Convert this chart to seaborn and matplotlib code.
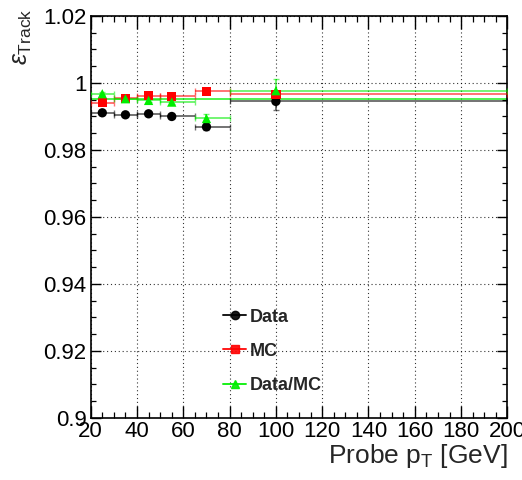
import matplotlib
matplotlib.use("Agg")
import matplotlib.pyplot as plt
from matplotlib.lines import Line2D
from matplotlib.ticker import MultipleLocator, FuncFormatter
import numpy as np
import pandas as pd
import seaborn as sns

# Probe pT bins (GeV): point position and bin edges
pt_center = [25, 35, 45, 55, 70, 100]
pt_low = [20, 30, 40, 50, 65, 80]
pt_high = [30, 40, 50, 65, 80, 200]

# Tracking efficiency per bin
eff_data = [0.9911, 0.9905, 0.9908, 0.9900, 0.9869, 0.9945]
err_data = [0.0004, 0.0004, 0.0004, 0.0005, 0.0008, 0.0027]
eff_mc = [0.9941, 0.9954, 0.9962, 0.9960, 0.9975, 0.9966]
err_mc = [0.0003, 0.0003, 0.0003, 0.0003, 0.0004, 0.0005]
ratio = [0.9968, 0.9953, 0.9948, 0.9943, 0.9894, 0.9977]
err_ratio = [0.0005, 0.0005, 0.0005, 0.0005, 0.0013, 0.0034]

# Constant fit of Data/MC over the full range
ratio_fit = 0.9952

series = [
    ("Data", eff_data, err_data, "black", "o", 6.0),
    ("MC", eff_mc, err_mc, "#ff0000", "s", 6.2),
    ("Data/MC", ratio, err_ratio, "#00ee00", "^", 6.4),
]

rows = []
for name, vals, errs, *_ in series:
    for c, lo, hi, v, e in zip(pt_center, pt_low, pt_high, vals, errs):
        rows.append(dict(sample=name, pt=c, lo=lo, hi=hi, eff=v, err=e))
df = pd.DataFrame(rows)

sns.set_style("ticks")
plt.rcParams["font.family"] = ["Liberation Sans", "DejaVu Sans"]
plt.rcParams["mathtext.fontset"] = "custom"
plt.rcParams["mathtext.rm"] = "Liberation Sans"
plt.rcParams["mathtext.it"] = "Liberation Sans:italic"

fig = plt.figure(figsize=(5.22, 4.80), dpi=100)
ax = fig.add_axes([0.1738, 0.1292, 0.9720 - 0.1738, 0.9667 - 0.1292])

palette = {name: col for name, _, _, col, _, _ in series}
markers = {name: m for name, _, _, _, m, _ in series}

# fitted constant for the ratio
ax.axhline(ratio_fit, color="#00ee00", lw=1.3, alpha=0.75, zorder=2)

for name, vals, errs, col, mk, ms in series:
    sub = df[df["sample"] == name]
    xerr = np.vstack([sub["pt"] - sub["lo"], sub["hi"] - sub["pt"]])
    ax.errorbar(sub["pt"], sub["eff"], xerr=xerr, yerr=sub["err"],
                fmt="none", ecolor=col, elinewidth=1.4, alpha=0.55,
                capsize=2, capthick=1.0, zorder=3)

sns.scatterplot(data=df, x="pt", y="eff", hue="sample", style="sample",
                palette=palette, markers=markers, s=45, linewidth=0,
                ax=ax, legend=False, zorder=4)

ax.set_xlim(20, 200)
ax.set_ylim(0.9, 1.02)

ax.xaxis.set_major_locator(MultipleLocator(20))
ax.xaxis.set_minor_locator(MultipleLocator(5))
ax.yaxis.set_major_locator(MultipleLocator(0.02))
ax.yaxis.set_minor_locator(MultipleLocator(0.005))


def yfmt(v, _):
    return f"{v:.2f}".rstrip("0").rstrip(".")


ax.yaxis.set_major_formatter(FuncFormatter(yfmt))
ax.xaxis.set_major_formatter(FuncFormatter(lambda v, _: f"{v:.0f}"))

ax.tick_params(axis="both", which="both", direction="in", top=True, right=True,
               labelsize=16, colors="black")
ax.tick_params(axis="x", which="major", length=9, width=1.0, pad=2)
ax.tick_params(axis="x", which="minor", length=4.5, width=0.9)
ax.tick_params(axis="y", which="major", length=7, width=1.0, pad=3)
ax.tick_params(axis="y", which="minor", length=3.5, width=0.9)

for sp in ax.spines.values():
    sp.set_linewidth(1.2)
    sp.set_color("black")

ax.grid(True, which="major", color="black", linestyle=(0, (1, 2.5)),
        linewidth=0.8, alpha=0.8)
ax.set_axisbelow(True)

ax.set_xlabel(r"Probe p$_{\mathrm{T}}$ [GeV]", fontsize=19, loc="right",
              labelpad=0)
ax.set_ylabel(r"$\epsilon_{\mathrm{Track}}$", fontsize=18, loc="top",
              labelpad=0)
ax.yaxis.set_label_coords(-0.135, 1.02)

handles = []
for name, vals, errs, col, mk, ms in series:
    handles.append(Line2D([0], [0], color=col, lw=1.4, alpha=0.9, marker=mk,
                          markersize=ms, markerfacecolor=col,
                          markeredgecolor=col, label=name))
leg = ax.legend(handles=handles, loc="upper left",
                bbox_to_anchor=(0.30, 0.29), frameon=False,
                prop={"weight": "bold", "size": 13},
                handlelength=1.3, handletextpad=0.2, labelspacing=0.95,
                borderaxespad=0)

fig.savefig("out.png", dpi=100)
